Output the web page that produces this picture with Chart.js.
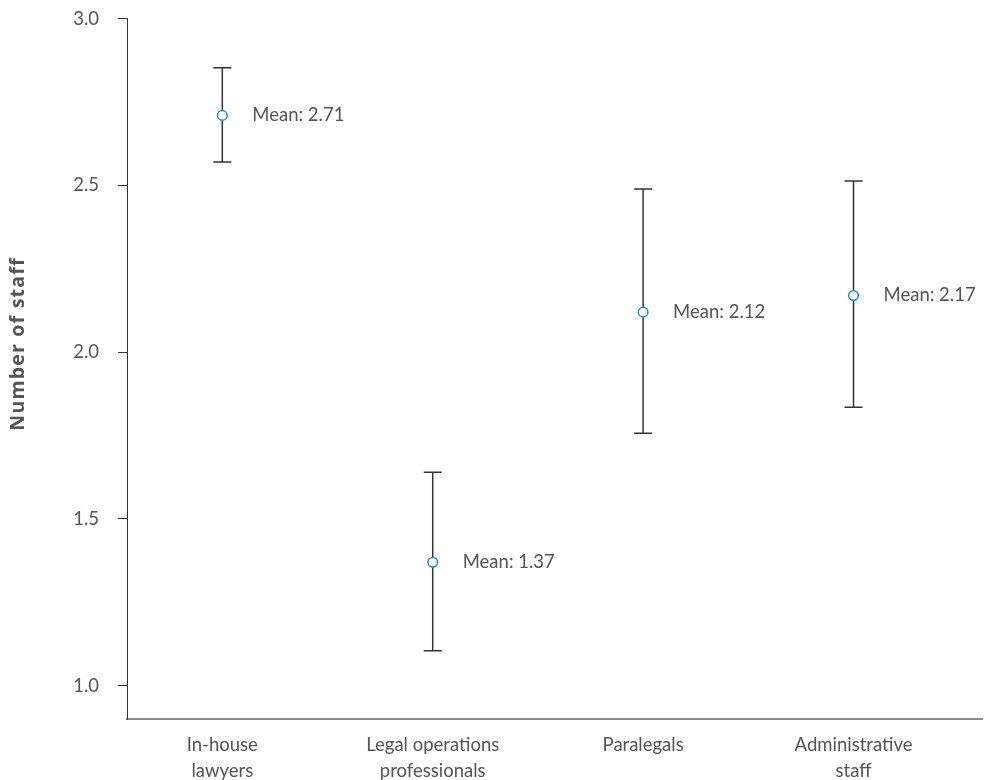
<!DOCTYPE html>
<html>
<head>
<meta charset="utf-8">
<script src="https://cdn.jsdelivr.net/npm/chart.js@4.4.1/dist/chart.umd.min.js"></script>
<style>
  html, body { margin: 0; padding: 0; background: #fff; }
  #wrap { width: 993px; height: 780px; position: relative; }
</style>
</head>
<body>
<div id="wrap"><canvas id="chart"></canvas></div>
<script>
// Staff roles shown along the x axis
const categories = [
  ['In-house', 'lawyers'],
  ['Legal operations', 'professionals'],
  ['Paralegals'],
  ['Administrative', 'staff']
];
// Mean number of staff per role and the interval around it
const means = [2.71, 1.37, 2.12, 2.17];
const lower = [2.57, 1.105, 1.757, 1.835];
const upper = [2.853, 1.64, 2.489, 2.513];
const yTicks = [1.0, 1.5, 2.0, 2.5, 3.0];
const yTitle = 'Number of staff';

const FONT = 'Lato, "Open Sans", sans-serif';
const TITLE_FONT = '"Open Sans", Lato, sans-serif';
const TEXT = '#555555';
const BAR = '#333333';
const MARK = '#1f8cc4';

const meanData = means.map((m, i) => ({ x: i, y: m }));
const barSets = means.map((m, i) => ({
  label: 'range ' + i,
  data: [{ x: i, y: lower[i] }, { x: i, y: upper[i] }],
  showLine: true,
  borderColor: BAR,
  borderWidth: 1.5,
  pointStyle: 'line',
  pointRadius: 9,
  pointHoverRadius: 9,
  pointBorderColor: BAR,
  pointBorderWidth: 1.5
}));

// Writes "Mean: x.xx" beside each mean marker, plus the rotated y title
const meanLabels = {
  id: 'meanLabels',
  afterDatasetsDraw(chart) {
    const ctx = chart.ctx;
    const meta = chart.getDatasetMeta(0);
    ctx.save();
    ctx.font = '18.5px ' + FONT;
    ctx.fillStyle = TEXT;
    ctx.textAlign = 'left';
    ctx.textBaseline = 'middle';
    meta.data.forEach((pt, i) => {
      ctx.fillText('Mean: ' + means[i].toFixed(2), pt.x + 30, pt.y);
    });
    ctx.restore();

    ctx.save();
    ctx.translate(18, 344);
    ctx.rotate(-Math.PI / 2);
    ctx.font = 'bold 19.5px ' + TITLE_FONT;
    ctx.letterSpacing = '1.2px';
    ctx.fillStyle = TEXT;
    ctx.textAlign = 'center';
    ctx.textBaseline = 'middle';
    ctx.fillText(yTitle, 0, 0);
    ctx.restore();
  }
};

new Chart(document.getElementById('chart'), {
  type: 'scatter',
  data: {
    datasets: [
      {
        label: 'mean',
        data: meanData,
        pointStyle: 'circle',
        pointRadius: 4.8,
        pointHoverRadius: 4.8,
        pointBackgroundColor: '#ffffff',
        pointBorderColor: MARK,
        pointBorderWidth: 1.5
      },
      ...barSets
    ]
  },
  options: {
    responsive: true,
    maintainAspectRatio: false,
    animation: false,
    events: [],
    layout: { padding: { top: 18.7, right: 0, bottom: 0, left: 0 } },
    plugins: {
      legend: { display: false },
      tooltip: { enabled: false }
    },
    scales: {
      x: {
        type: 'linear',
        min: -0.453,
        max: 3.613,
        afterFit(scale) { scale.height = 61; },
        grid: { display: true, drawOnChartArea: false, drawTicks: false },
        border: { display: true, color: '#8a8a8a', width: 2 },
        ticks: {
          stepSize: 1,
          includeBounds: false,
          autoSkip: false,
          maxRotation: 0,
          padding: 13,
          color: TEXT,
          font: { family: FONT, size: 18.5, lineHeight: 1.4 },
          callback: (v) => Number.isInteger(v) && categories[v] ? categories[v] : ''
        }
      },
      y: {
        type: 'linear',
        min: 0.9,
        max: 3.0,
        afterFit(scale) {
          scale.width = 127;
          scale.paddingTop = 0;
          scale.paddingBottom = 0;
        },
        afterBuildTicks(scale) { scale.ticks = yTicks.map(v => ({ value: v })); },
        grid: { display: true, drawOnChartArea: false, drawTicks: true, tickLength: 9, tickColor: BAR, tickWidth: 1 },
        border: { display: true, color: BAR, width: 1 },
        ticks: {
          padding: 19,
          color: TEXT,
          font: { family: FONT, size: 18.5 },
          callback: (v) => Number(v).toFixed(1)
        }
      }
    }
  },
  plugins: [meanLabels]
});
</script>
</body>
</html>
